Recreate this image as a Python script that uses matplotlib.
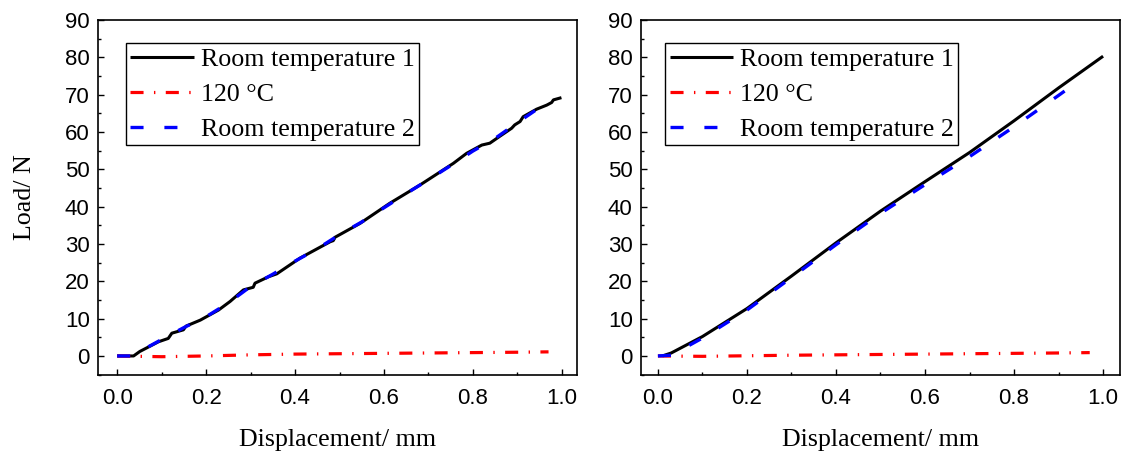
import matplotlib
matplotlib.use("Agg")
import matplotlib.pyplot as plt
from matplotlib.ticker import MultipleLocator

# ---------------- data ----------------
# Left panel
left_rt1_x = [0.0, 0.037, 0.051, 0.093, 0.115, 0.123, 0.149, 0.155, 0.187, 0.228, 0.254, 0.284,
              0.306, 0.310, 0.340, 0.359, 0.411, 0.479, 0.486, 0.490, 0.546, 0.613, 0.681,
              0.756, 0.786, 0.820, 0.838, 0.861, 0.887, 0.894, 0.906, 0.913, 0.943, 0.966,
              0.977, 0.981, 0.999]
left_rt1_y = [0.0, 0.0, 1.2, 3.8, 4.7, 6.1, 7.0, 8.0, 9.6, 12.3, 14.6, 17.7,
              18.4, 19.5, 21.2, 22.0, 26.2, 30.6, 30.9, 31.8, 35.5, 40.9, 45.8,
              51.6, 54.3, 56.5, 57.0, 58.9, 61.0, 61.9, 62.8, 64.1, 66.1, 67.2,
              67.9, 68.6, 69.2]

left_rt2_x = [0.0, 0.037, 0.06, 0.1, 0.15, 0.2, 0.25, 0.3, 0.35, 0.4, 0.45, 0.5, 0.55,
              0.6, 0.65, 0.7, 0.75, 0.8, 0.85, 0.9, 0.943]
left_rt2_y = [0.0, 0.0, 1.8, 4.4, 7.6, 10.5, 14.2, 18.6, 21.9, 25.4, 28.7, 32.5, 35.9,
              39.7, 43.5, 47.2, 51.0, 54.9, 58.3, 62.5, 66.0]

left_120_x = [0.0, 0.1, 0.2, 0.3, 0.4, 0.5, 0.6, 0.7, 0.8, 0.9, 0.97]
left_120_y = [0.0, -0.2, 0.0, 0.3, 0.5, 0.6, 0.7, 0.8, 0.9, 1.0, 1.1]

# Right panel
right_rt1_x = [0.01, 0.03, 0.1, 0.2, 0.3, 0.4, 0.5, 0.6, 0.7, 0.8, 0.9, 1.0]
right_rt1_y = [0.0, 0.8, 5.2, 12.7, 21.4, 30.3, 38.8, 46.7, 54.5, 63.0, 71.8, 80.3]

right_rt2_x = [0.0, 0.03, 0.1, 0.2, 0.3, 0.4, 0.5, 0.6, 0.7, 0.8, 0.9, 0.935]
right_rt2_y = [0.0, 0.2, 4.8, 12.3, 21.0, 29.8, 38.2, 45.9, 53.4, 61.4, 69.8, 72.8]

right_120_x = [0.0, 0.1, 0.3, 0.5, 0.7, 0.9, 0.97]
right_120_y = [0.0, -0.1, 0.2, 0.4, 0.6, 0.8, 0.9]

labels = ["Room temperature 1", "120 \u00b0C", "Room temperature 2"]
xticks = [0.0, 0.2, 0.4, 0.6, 0.8, 1.0]
yticks = [0, 10, 20, 30, 40, 50, 60, 70, 80, 90]

# ---------------- style ----------------
plt.rcParams['lines.scale_dashes'] = False
SERIF = ['Liberation Serif', 'DejaVu Serif']
SANS = ['Liberation Sans', 'DejaVu Sans']

fig = plt.figure(figsize=(11.26, 4.55), dpi=100)
W, H = 1126.0, 455.0
ax1 = fig.add_axes([98 / W, 1 - 375 / H, 479 / W, 355 / H])
ax2 = fig.add_axes([641 / W, 1 - 375 / H, 479 / W, 355 / H])

blue_dash = (0, (9.4, 15.0))
red_dashdot = (0, (9.4, 7.5, 1.0, 7.5))


def draw(ax, rt1x, rt1y, tx, ty, rt2x, rt2y, xlim, legx):
    ax.plot(rt1x, rt1y, color='black', lw=2.2, solid_capstyle='butt', label=labels[0], zorder=3)
    ax.plot(tx, ty, color='red', lw=2.3, linestyle=red_dashdot, label=labels[1], zorder=4)
    ax.plot(rt2x, rt2y, color='blue', lw=2.4, linestyle=blue_dash, label=labels[2], zorder=4)
    ax.set_xlim(*xlim)
    ax.set_ylim(-5.1, 90)
    ax.set_xticks(xticks)
    ax.set_yticks(yticks)
    ax.set_xticklabels([f"{v:.1f}" for v in xticks], family=SANS, fontsize=16)
    ax.set_yticklabels([str(v) for v in yticks], family=SANS, fontsize=16)
    ax.xaxis.set_minor_locator(MultipleLocator(0.1))
    ax.yaxis.set_minor_locator(MultipleLocator(5))
    ax.tick_params(which='both', direction='in', top=False, right=False, width=1.0, color='black')
    ax.tick_params(which='major', length=4.0)
    ax.tick_params(which='minor', length=2.0)
    ax.tick_params(axis='x', which='major', pad=9)
    ax.tick_params(axis='y', which='major', pad=6)
    for s in ax.spines.values():
        s.set_linewidth(1.2)
    ax.set_xlabel("Displacement/ mm", family=SERIF, fontsize=18.7, labelpad=15)
    leg = ax.legend(loc='upper left', bbox_to_anchor=(legx, 0.935), prop={'family': SERIF, 'size': 18.7},
                    frameon=True, fancybox=False, framealpha=1, edgecolor='black',
                    handlelength=2.45, handletextpad=0.25, borderpad=0.18, labelspacing=0.45,
                    borderaxespad=0.0)
    leg.get_frame().set_linewidth(1.0)


draw(ax1, left_rt1_x, left_rt1_y, left_120_x, left_120_y, left_rt2_x, left_rt2_y, (-0.043, 1.034), 0.058)
draw(ax2, right_rt1_x, right_rt1_y, right_120_x, right_120_y, right_rt2_x, right_rt2_y, (-0.038, 1.038), 0.050)
ax1.set_ylabel("Load/ N", family=SERIF, fontsize=18.7, labelpad=21)

fig.savefig("out.png", dpi=100)
